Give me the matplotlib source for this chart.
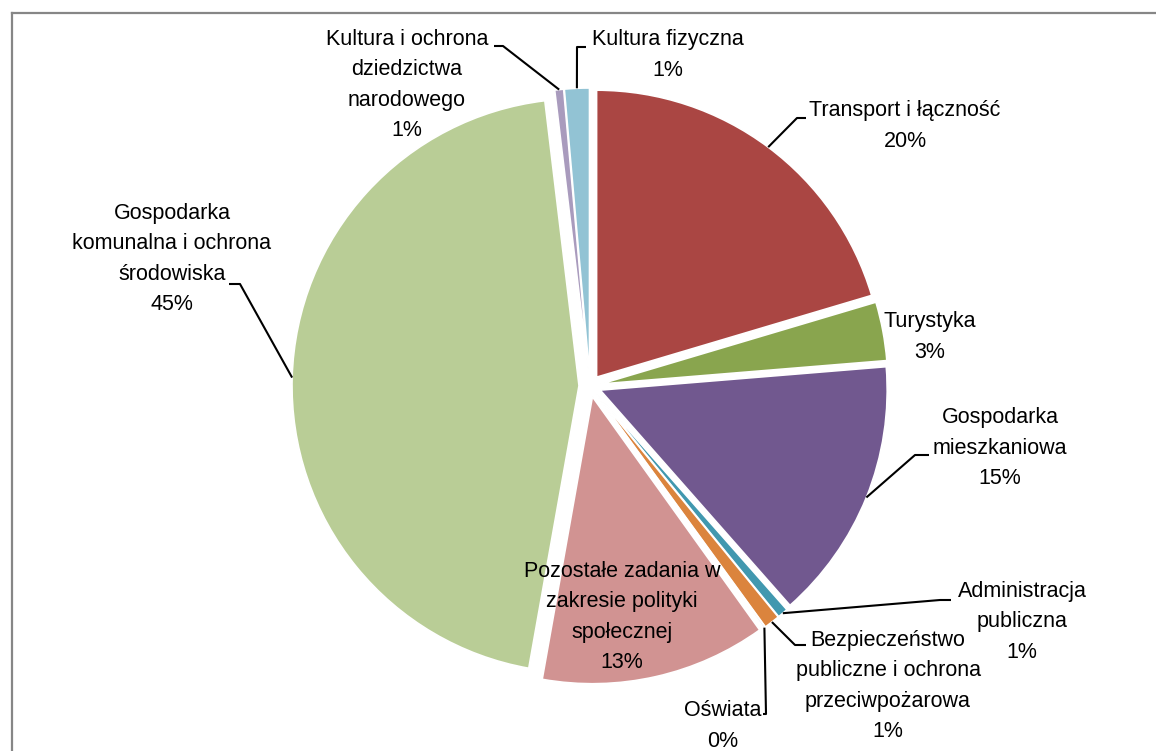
import numpy as np
import matplotlib
matplotlib.use("Agg")
import matplotlib.pyplot as plt

plt.rcParams['font.family'] = ['Liberation Sans', 'DejaVu Sans']

# data, clockwise from 12 o'clock
labels = ["Transport i łączność", "Turystyka", "Gospodarka\nmieszkaniowa",
          "Administracja\npubliczna", "Bezpieczeństwo\npubliczne i ochrona\nprzeciwpożarowa",
          "Oświata", "Pozostałe zadania w\nzakresie polityki\nspołecznej",
          "Gospodarka\nkomunalna i ochrona\nśrodowiska",
          "Kultura i ochrona\ndziedzictwa\nnarodowego", "Kultura fizyczna"]
shares = [20.4, 3.3, 14.8, 0.6, 0.9, 0.1, 12.7, 45.3, 0.5, 1.4]
pct_labels = ["20%", "3%", "15%", "1%", "1%", "0%", "13%", "45%", "1%", "1%"]
colors = ["#AA4643", "#89A54E", "#71588F", "#4198AF", "#DB843D",
          "#93A9CF", "#D19392", "#B9CD96", "#A99BBD", "#92C3D4"]

W, H = 1156, 751
fig = plt.figure(figsize=(W / 100, H / 100), dpi=100)
ax = fig.add_axes([0, 0, 1, 1])

R = 287
cx, cy = 590, H - 386
wedges, _ = ax.pie(shares, colors=colors, startangle=90, counterclock=False,
                   radius=R, center=(cx, cy), explode=[11] * len(shares),
                   wedgeprops=dict(edgecolor="white", linewidth=1.2))
ax.set_xlim(0, W)
ax.set_ylim(0, H)
ax.set_aspect("auto")
ax.axis("off")

# label layout (screen px: x, y from top)
text_pos = [(905, 126), (930, 337), (1000, 448), (1022, 622), (888, 686),
            (723, 726), (622, 617), (172, 259), (407, 85), (668, 55)]
# leader line elbows (screen px), None = no leader
leaders = [[(797, 118), (806, 118)], None, [(915, 455), (929, 455)],
           [(940, 600), (951, 600)], [(795, 645), (806, 645)],
           [(766, 714), (763, 714)], None, [(240, 284), (229, 284)],
           [(503, 46), (494, 46)], [(577, 47), (586, 47)]]

for w, lab, pct, pos, lead in zip(wedges, labels, pct_labels, text_pos, leaders):
    ax.text(pos[0], H - pos[1], lab + "\n" + pct, ha="center", va="center",
            fontsize=15.5, linespacing=1.6, color="black")
    if lead is None:
        continue
    mid = np.deg2rad((w.theta1 + w.theta2) / 2)
    ax_x = w.center[0] + w.r * np.cos(mid)
    ax_y = w.center[1] + w.r * np.sin(mid)
    xs = [ax_x] + [p[0] for p in lead]
    ys = [ax_y] + [H - p[1] for p in lead]
    ax.plot(xs, ys, color="black", lw=1.5, solid_capstyle="butt")

# outer chart frame (top and left edges visible)
fig.add_artist(plt.Line2D([11.5 / W, 1.0], [1 - 12.5 / H, 1 - 12.5 / H],
                          color="#868686", lw=1.6, transform=fig.transFigure))
fig.add_artist(plt.Line2D([11.5 / W, 11.5 / W], [0, 1 - 12.5 / H],
                          color="#868686", lw=1.6, transform=fig.transFigure))

fig.savefig("out.png", dpi=100)
